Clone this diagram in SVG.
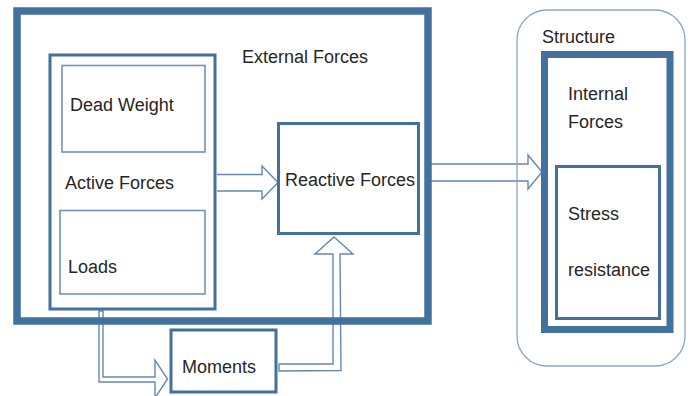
<svg xmlns="http://www.w3.org/2000/svg" width="692" height="396" viewBox="0 0 692 396">
  <style>
    .lbl { font-family: "Liberation Sans", Arial, sans-serif; font-size: 18px; fill: #262626; }
    .thick { fill: none; stroke: #41719c; stroke-width: 7.5; }
    .mid { fill: none; stroke: #41719c; stroke-width: 3; }
    .thin { fill: none; stroke: #6f93b9; stroke-width: 1.6; }
    .outline { fill: none; stroke: #89a8c8; stroke-width: 1.3; }
    .arrow { fill: none; stroke: #6488b0; stroke-width: 1.4; stroke-linejoin: miter; }
  </style>
  <rect width="692" height="396" fill="#ffffff"/>

  <!-- block arrows -->
  <g id="connectors">
    <!-- Active Forces to Reactive Forces -->
    <polyline class="arrow" points="217,174.5 262,174.5 262,166 278,182.5 262,199 262,191 217,191"/>
    <!-- Reactive Forces to Internal Forces -->
    <polyline class="arrow" points="428,164 528,164 528,155 542,172 528,189 528,181 428,181"/>
    <!-- Active Forces down to Moments -->
    <polygon class="arrow" points="99,311 99,382 155,382 155,398 167.5,379 155,360 155,377 103,377 103,311"/>
    <!-- Moments up to Reactive Forces -->
    <polygon class="arrow" points="279,364 333,364 333,254 315,254 334,237 353,254 340,254 341,370.5 279,371"/>
  </g>

  <g id="external-forces">
    <rect class="thick" x="17" y="11" width="411" height="310"/>
    <text class="lbl" x="242" y="63">External Forces</text>
  </g>

  <g id="active-forces">
    <rect class="mid" x="50" y="55" width="165" height="254"/>
    <text class="lbl" x="65" y="189">Active Forces</text>
  </g>

  <g id="dead-weight">
    <rect class="thin" x="62" y="65.5" width="143" height="86.5"/>
    <text class="lbl" x="70" y="111">Dead Weight</text>
  </g>

  <g id="loads">
    <rect class="thin" x="60" y="210.5" width="145" height="83.5"/>
    <text class="lbl" x="68" y="273">Loads</text>
  </g>

  <g id="reactive-forces">
    <rect class="mid" x="278.5" y="123.5" width="140" height="110"/>
    <text class="lbl" x="285" y="186">Reactive Forces</text>
  </g>

  <g id="moments">
    <rect class="mid" x="171" y="330" width="105" height="62"/>
    <text class="lbl" x="182" y="373">Moments</text>
  </g>

  <g id="structure">
    <rect class="outline" x="517" y="10" width="168" height="356" rx="30" ry="30"/>
    <text class="lbl" x="542" y="43">Structure</text>
  </g>

  <g id="internal-forces">
    <rect class="thick" x="544.5" y="54.5" width="125.5" height="275" style="stroke-width:7"/>
    <text class="lbl" x="568" y="100">Internal</text>
    <text class="lbl" x="568" y="128">Forces</text>
  </g>

  <g id="stress-resistance">
    <rect class="mid" x="556.5" y="166.5" width="103" height="152"/>
    <text class="lbl" x="568" y="220">Stress</text>
    <text class="lbl" x="568" y="276">resistance</text>
  </g>
</svg>
